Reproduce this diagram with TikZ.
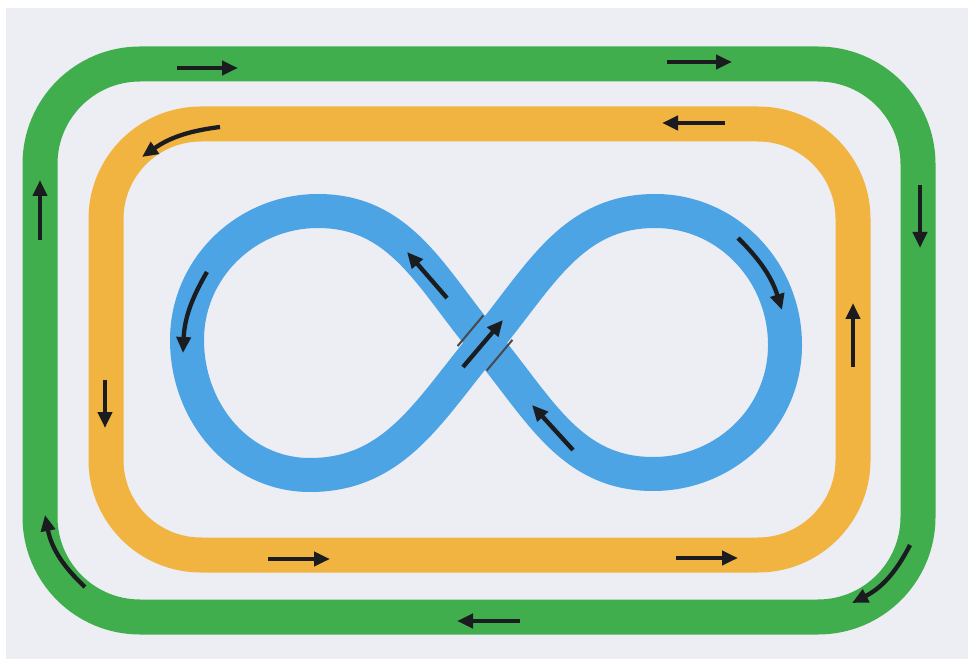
\documentclass[tikz,border=0pt]{standalone}
\usepackage{xcolor}
\definecolor{Paper}{HTML}{ECEEF3}
\definecolor{TrackGreen}{HTML}{40AE4C}
\definecolor{TrackAmber}{HTML}{F2B440}
\definecolor{TrackBlue}{HTML}{4CA4E4}
\definecolor{Ink}{HTML}{1A1C1F}
\usepackage{tikz}
\usetikzlibrary{arrows.meta}
\tikzset{
  trk/.style={line width=35pt,line join=round},
  trkg/.style={trk,draw=TrackGreen,rounded corners=100pt},
  trka/.style={trk,draw=TrackAmber,rounded corners=95pt},
  trkb/.style={trk,draw=TrackBlue,line width=34pt},
  flowarr/.style={-{Triangle[length=16pt,width=14pt]},draw=Ink,line width=4.3pt},
  bridgeln/.style={draw=Ink!80,line width=2pt},
}

\begin{document}
\begin{tikzpicture}[x=1pt,y=1pt]
\fill[Paper] (0,0) rectangle (968,659);
\fill[white] (0,651) rectangle (968,659);
\fill[white] (0,0) rectangle (6,659);

% outer and middle tracks
\draw[trkg] (40,42) rectangle (918,595);
\draw[trka] (106,104) rectangle (853,535);

% figure eight
\coordinate (cx) at (485,316);
\coordinate (lt) at (318,448);
\coordinate (ll) at (187,319);
\coordinate (lb) at (310,184);
\coordinate (rt) at (655,448);
\coordinate (rr) at (785,314);
\coordinate (rb) at (653,185);
\draw[trkb] (cx) to[out=130,in=0] (lt) to[out=180,in=90] (ll)
  to[out=-90,in=180] (lb) to[out=0,in=230] (cx)
  to[out=50,in=180] (rt) to[out=0,in=90] (rr)
  to[out=-90,in=0] (rb) to[out=180,in=-50] cycle;
\begin{scope}[shift={(cx)},rotate=50]
  \draw[bridgeln] (-20,19) -- (20,19);
  \draw[bridgeln] (-20,-19) -- (20,-19);
\end{scope}

% green: clockwise
\coordinate (g1a) at (177,591); \coordinate (g1b) at (238,591);
\coordinate (g2a) at (667,597); \coordinate (g2b) at (732,597);
\coordinate (g3a) at (920,474); \coordinate (g3b) at (920,411);
\coordinate (g4a) at (910,114); \coordinate (g4b) at (852,56);
\coordinate (g5a) at (520,38);  \coordinate (g5b) at (457,38);
\coordinate (g6a) at (85,72);   \coordinate (g6b) at (45,144);
\coordinate (g7a) at (40,419);  \coordinate (g7b) at (40,479);
\draw[flowarr] (g1a) -- (g1b);
\draw[flowarr] (g2a) -- (g2b);
\draw[flowarr] (g3a) -- (g3b);
\draw[flowarr] (g4a) to[bend left=18] (g4b);
\draw[flowarr] (g5a) -- (g5b);
\draw[flowarr] (g6a) to[bend left=18] (g6b);
\draw[flowarr] (g7a) -- (g7b);

% amber: counter-clockwise
\coordinate (a1a) at (725,536); \coordinate (a1b) at (662,536);
\coordinate (a2a) at (220,532); \coordinate (a2b) at (142,502);
\coordinate (a3a) at (105,279); \coordinate (a3b) at (105,231);
\coordinate (a4a) at (268,100); \coordinate (a4b) at (330,100);
\coordinate (a5a) at (676,101); \coordinate (a5b) at (738,101);
\coordinate (a6a) at (853,292); \coordinate (a6b) at (853,356);
\draw[flowarr] (a1a) -- (a1b);
\draw[flowarr] (a2a) to[bend right=14] (a2b);
\draw[flowarr] (a3a) -- (a3b);
\draw[flowarr] (a4a) -- (a4b);
\draw[flowarr] (a5a) -- (a5b);
\draw[flowarr] (a6a) -- (a6b);

% blue
\coordinate (b1a) at (207,387); \coordinate (b1b) at (183,306);
\coordinate (b2a) at (447,361); \coordinate (b2b) at (407,407);
\coordinate (b3a) at (463,292); \coordinate (b3b) at (503,339);
\coordinate (b4a) at (573,209); \coordinate (b4b) at (532,254);
\coordinate (b5a) at (738,421); \coordinate (b5b) at (782,349);
\draw[flowarr] (b1a) to[bend right=14] (b1b);
\draw[flowarr] (b2a) -- (b2b);
\draw[flowarr] (b3a) -- (b3b);
\draw[flowarr] (b4a) -- (b4b);
\draw[flowarr] (b5a) to[bend left=14] (b5b);
\end{tikzpicture}
\end{document}
